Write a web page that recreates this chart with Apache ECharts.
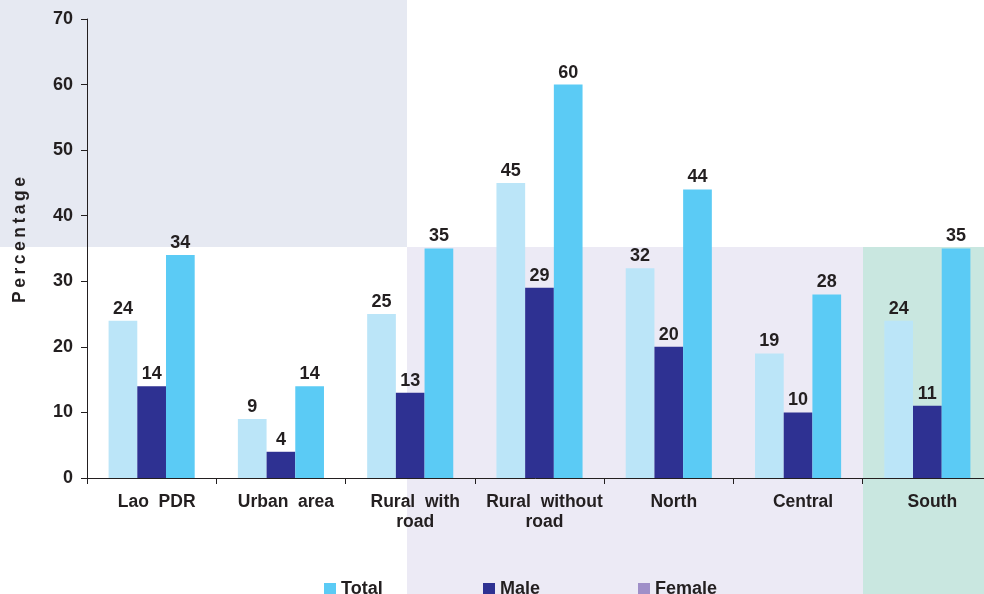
<!DOCTYPE html>
<html><head><meta charset="utf-8">
<script src="https://cdn.jsdelivr.net/npm/echarts@6/dist/echarts.min.js"></script>
<style>html,body{margin:0;padding:0;background:#fff}#c{width:984px;height:594px}</style>
</head><body><div id="c"></div>
<script>
const categories = ['Lao  PDR', 'Urban  area', 'Rural  with\nroad', 'Rural  without\nroad', 'North', 'Central', 'South'];
const totalValues = [24, 9, 25, 45, 32, 19, 24];
const maleValues = [14, 4, 13, 29, 20, 10, 11];
const femaleValues = [34, 14, 35, 60, 44, 28, 35];
const yTicks = [0, 10, 20, 30, 40, 50, 60, 70];
const yTitle = 'Percentage';

const FONT = '"Liberation Sans", Arial, Helvetica, sans-serif';
const TXT = '#231F20';
const chart = echarts.init(document.getElementById('c'));
const lbl = {show: true, position: 'top', distance: 3, fontFamily: FONT, fontWeight: 'bold', fontSize: 18, color: TXT};
const legendBase = {top: 575, itemWidth: 12, itemHeight: 12, itemGap: 8, icon: 'rect',
  textStyle: {fontFamily: FONT, fontWeight: 'bold', fontSize: 18, color: TXT}, selectedMode: false};
chart.setOption({
  animation: false,
  graphic: [
    {type: 'rect', z: -10, shape: {x: 0, y: 0, width: 407, height: 247}, style: {fill: '#E6E9F2'}},
    {type: 'rect', z: -10, shape: {x: 407, y: 247, width: 456, height: 347}, style: {fill: '#ECEAF5'}},
    {type: 'rect', z: -10, shape: {x: 863, y: 247, width: 121, height: 347}, style: {fill: '#C9E7E0'}},
    {type: 'text', x: 20, y: 240, rotation: Math.PI / 2,
      style: {text: yTitle.split('').join('\u2009'), font: 'bold 17.5px ' + FONT, fill: TXT, align: 'center', verticalAlign: 'middle'}}
  ],
  legend: [
    Object.assign({}, legendBase, {left: 319, data: [{name: 'Total', itemStyle: {color: '#5BCBF5'}}]}),
    Object.assign({}, legendBase, {left: 478, data: [{name: 'Male', itemStyle: {color: '#2E3192'}}]}),
    Object.assign({}, legendBase, {left: 633, data: [{name: 'Female', itemStyle: {color: '#9F8FC8'}}]})
  ],
  grid: {left: 87, top: 19, width: 905, height: 459, outerBoundsMode: 'none', containLabel: false},
  xAxis: {
    type: 'category', data: categories,
    axisLine: {lineStyle: {color: '#231F20', width: 1}},
    axisTick: {show: true, length: 6, lineStyle: {color: '#231F20'}},
    axisLabel: {fontFamily: FONT, fontWeight: 'bold', fontSize: 17.5, color: TXT, margin: 14, lineHeight: 20, interval: 0,
      padding: [0, 0, 0, 10]}
  },
  yAxis: {
    type: 'value', min: 0, max: 70, interval: 10,
    axisLine: {show: true, lineStyle: {color: '#231F20'}},
    axisTick: {show: true, length: 6, lineStyle: {color: '#231F20'}},
    splitLine: {show: false},
    axisLabel: {fontFamily: FONT, fontWeight: 'bold', fontSize: 18, color: TXT, margin: 14,
      formatter: v => yTicks.includes(v) ? String(v) : ''}
  },
  series: [
    {name: 'Total', type: 'bar', data: totalValues, barWidth: 28.7, barGap: '0%', itemStyle: {color: '#BBE5F8'}, label: lbl},
    {name: 'Male', type: 'bar', data: maleValues, barWidth: 28.7, barGap: '0%', itemStyle: {color: '#2E3192'}, label: lbl},
    {name: 'Female', type: 'bar', data: femaleValues, barWidth: 28.7, barGap: '0%', itemStyle: {color: '#5BCBF5'}, label: lbl}
  ]
});
</script></body></html>
